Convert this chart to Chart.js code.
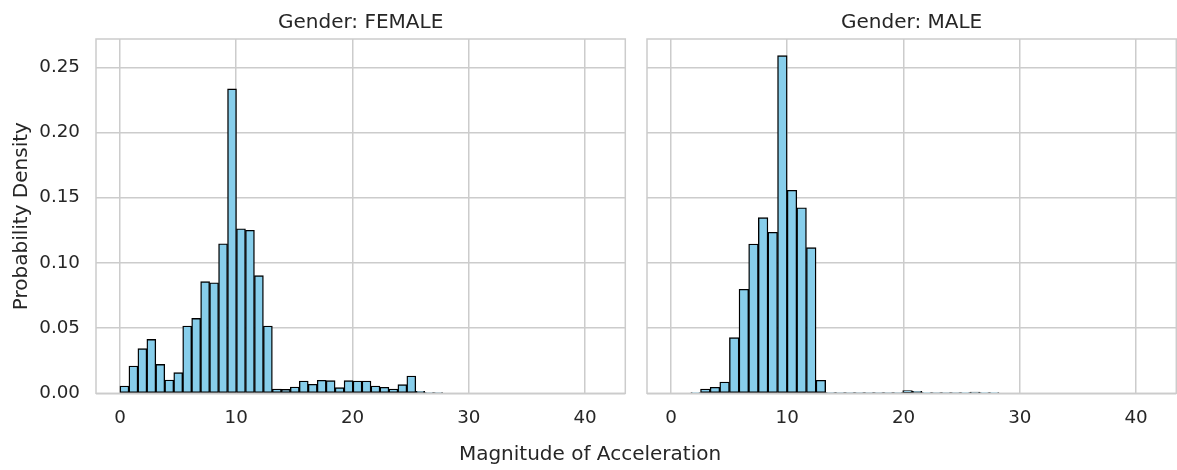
<!DOCTYPE html>
<html>
<head>
<meta charset="utf-8">
<script src="https://cdn.jsdelivr.net/npm/chart.js@4.4.1/dist/chart.umd.min.js"></script>
<style>
  html, body { margin: 0; padding: 0; background: #ffffff; }
  #wrap { position: relative; width: 1177px; height: 470px; overflow: hidden; }
  canvas { position: absolute; top: 0; }
  #xlabel { position: absolute; left: 0; width: 1180px; top: 441px; text-align: center;
            font-family: "DejaVu Sans", sans-serif; font-size: 20px; color: #262626; line-height: 24px; }
</style>
</head>
<body>
<div id="wrap">
  <canvas id="cF" width="640" height="470" style="left:0px"></canvas>
  <canvas id="cM" width="537" height="470" style="left:640px"></canvas>
  <div id="xlabel">Magnitude of Acceleration</div>
</div>
<script>
// ---- data ----
const panelTitles = ["Gender: FEMALE", "Gender: MALE"];
const xTickValues = [0, 10, 20, 30, 40];
const yTickValues = [0, 0.05, 0.10, 0.15, 0.20, 0.25];

const femaleBinStart = 0.0;
const femaleBinWidth = 0.771;
const femaleDensity = [
  0.0056, 0.0209, 0.0342, 0.0414, 0.0222, 0.0102, 0.0158, 0.0516, 0.0575, 0.0856,
  0.0848, 0.1147, 0.2334, 0.1262, 0.1250, 0.0902, 0.0516, 0.0033, 0.0030, 0.0048,
  0.0094, 0.0069, 0.0100, 0.0097, 0.0043, 0.0097, 0.0094, 0.0094, 0.0056, 0.0046,
  0.0033, 0.0066, 0.0133, 0.0015, 0.0002, 0.0001
];

const maleBinStart = 1.715;
const maleBinWidth = 0.828;
const maleDensity = [
  0.0004, 0.0033, 0.0046, 0.0087, 0.0427, 0.0798, 0.1145, 0.1347, 0.1235, 0.2589,
  0.1557, 0.1423, 0.1117, 0.0100, 0.0003, 0.0002, 0.0002, 0.0002, 0.0002, 0.0002,
  0.0002, 0.0002, 0.0020, 0.0015, 0.0005, 0.0001, 0.0003, 0.0003, 0.0004, 0.0010,
  0.0004, 0.0004
];

const xRange = [-2.06, 43.46];
const yRange = [0, 0.2717];

// ---- styling ----
const FONT = "DejaVu Sans";
const TEXT = "#262626";
const GRID = "#cccccc";

function toPoints(start, width, values) {
  return values.map((v, i) => ({ x: start + (i + 0.5) * width, y: v }));
}

const framePlugin = {
  id: 'frame',
  afterDatasetsDraw(chart) {
    const a = chart.chartArea, ctx = chart.ctx;
    ctx.save();
    ctx.strokeStyle = GRID;
    ctx.lineWidth = 1.5;
    ctx.strokeRect(a.left, a.top, a.right - a.left, a.bottom - a.top);
    ctx.restore();
  }
};

function makeChart(id, title, start, width, values, showY) {
  const leftW = showY ? 96 : 7;
  return new Chart(document.getElementById(id), {
    type: 'bar',
    data: {
      datasets: [{
        data: toPoints(start, width, values),
        backgroundColor: '#87ceeb',
        borderColor: '#000000',
        borderWidth: 1.4,
        borderSkipped: false,
        barPercentage: 1.0,
        categoryPercentage: 1.0
      }]
    },
    options: {
      responsive: false,
      animation: false,
      devicePixelRatio: 1,
      layout: { padding: { left: 0, right: showY ? 14.7 : 0.7, top: 0, bottom: 0 } },
      plugins: {
        legend: { display: false },
        tooltip: { enabled: false },
        title: {
          display: true, text: title, fullSize: false,
          color: TEXT, font: { family: FONT, size: 20, weight: 'normal', lineHeight: 1.2 },
          padding: { top: 11, bottom: 4 }
        }
      },
      scales: {
        x: {
          type: 'linear', min: xRange[0], max: xRange[1], offset: false,
          grid: { color: GRID, lineWidth: 1.5, drawTicks: false, offset: false },
          border: { display: false },
          ticks: { color: TEXT, font: { family: FONT, size: 18.3 }, padding: 14 },
          afterBuildTicks(scale) { scale.ticks = xTickValues.map(v => ({ value: v })); },
          afterFit(scale) { scale.height = 470 - 393.3; }
        },
        y: {
          type: 'linear', min: yRange[0], max: yRange[1],
          grid: { color: GRID, lineWidth: 1.5, drawTicks: false },
          border: { display: false },
          ticks: {
            display: showY, color: TEXT, font: { family: FONT, size: 18.3 }, padding: 16,
            callback: (v) => Number(v).toFixed(2)
          },
          title: {
            display: showY, text: 'Probability Density', color: TEXT,
            font: { family: FONT, size: 20, lineHeight: 1.2 }, padding: { top: 10, bottom: 0 }
          },
          afterBuildTicks(scale) { scale.ticks = yTickValues.map(v => ({ value: v })); },
          afterFit(scale) { scale.width = leftW; }
        }
      }
    },
    plugins: [framePlugin]
  });
}

makeChart('cF', panelTitles[0], femaleBinStart, femaleBinWidth, femaleDensity, true);
makeChart('cM', panelTitles[1], maleBinStart, maleBinWidth, maleDensity, false);
</script>
</body>
</html>
